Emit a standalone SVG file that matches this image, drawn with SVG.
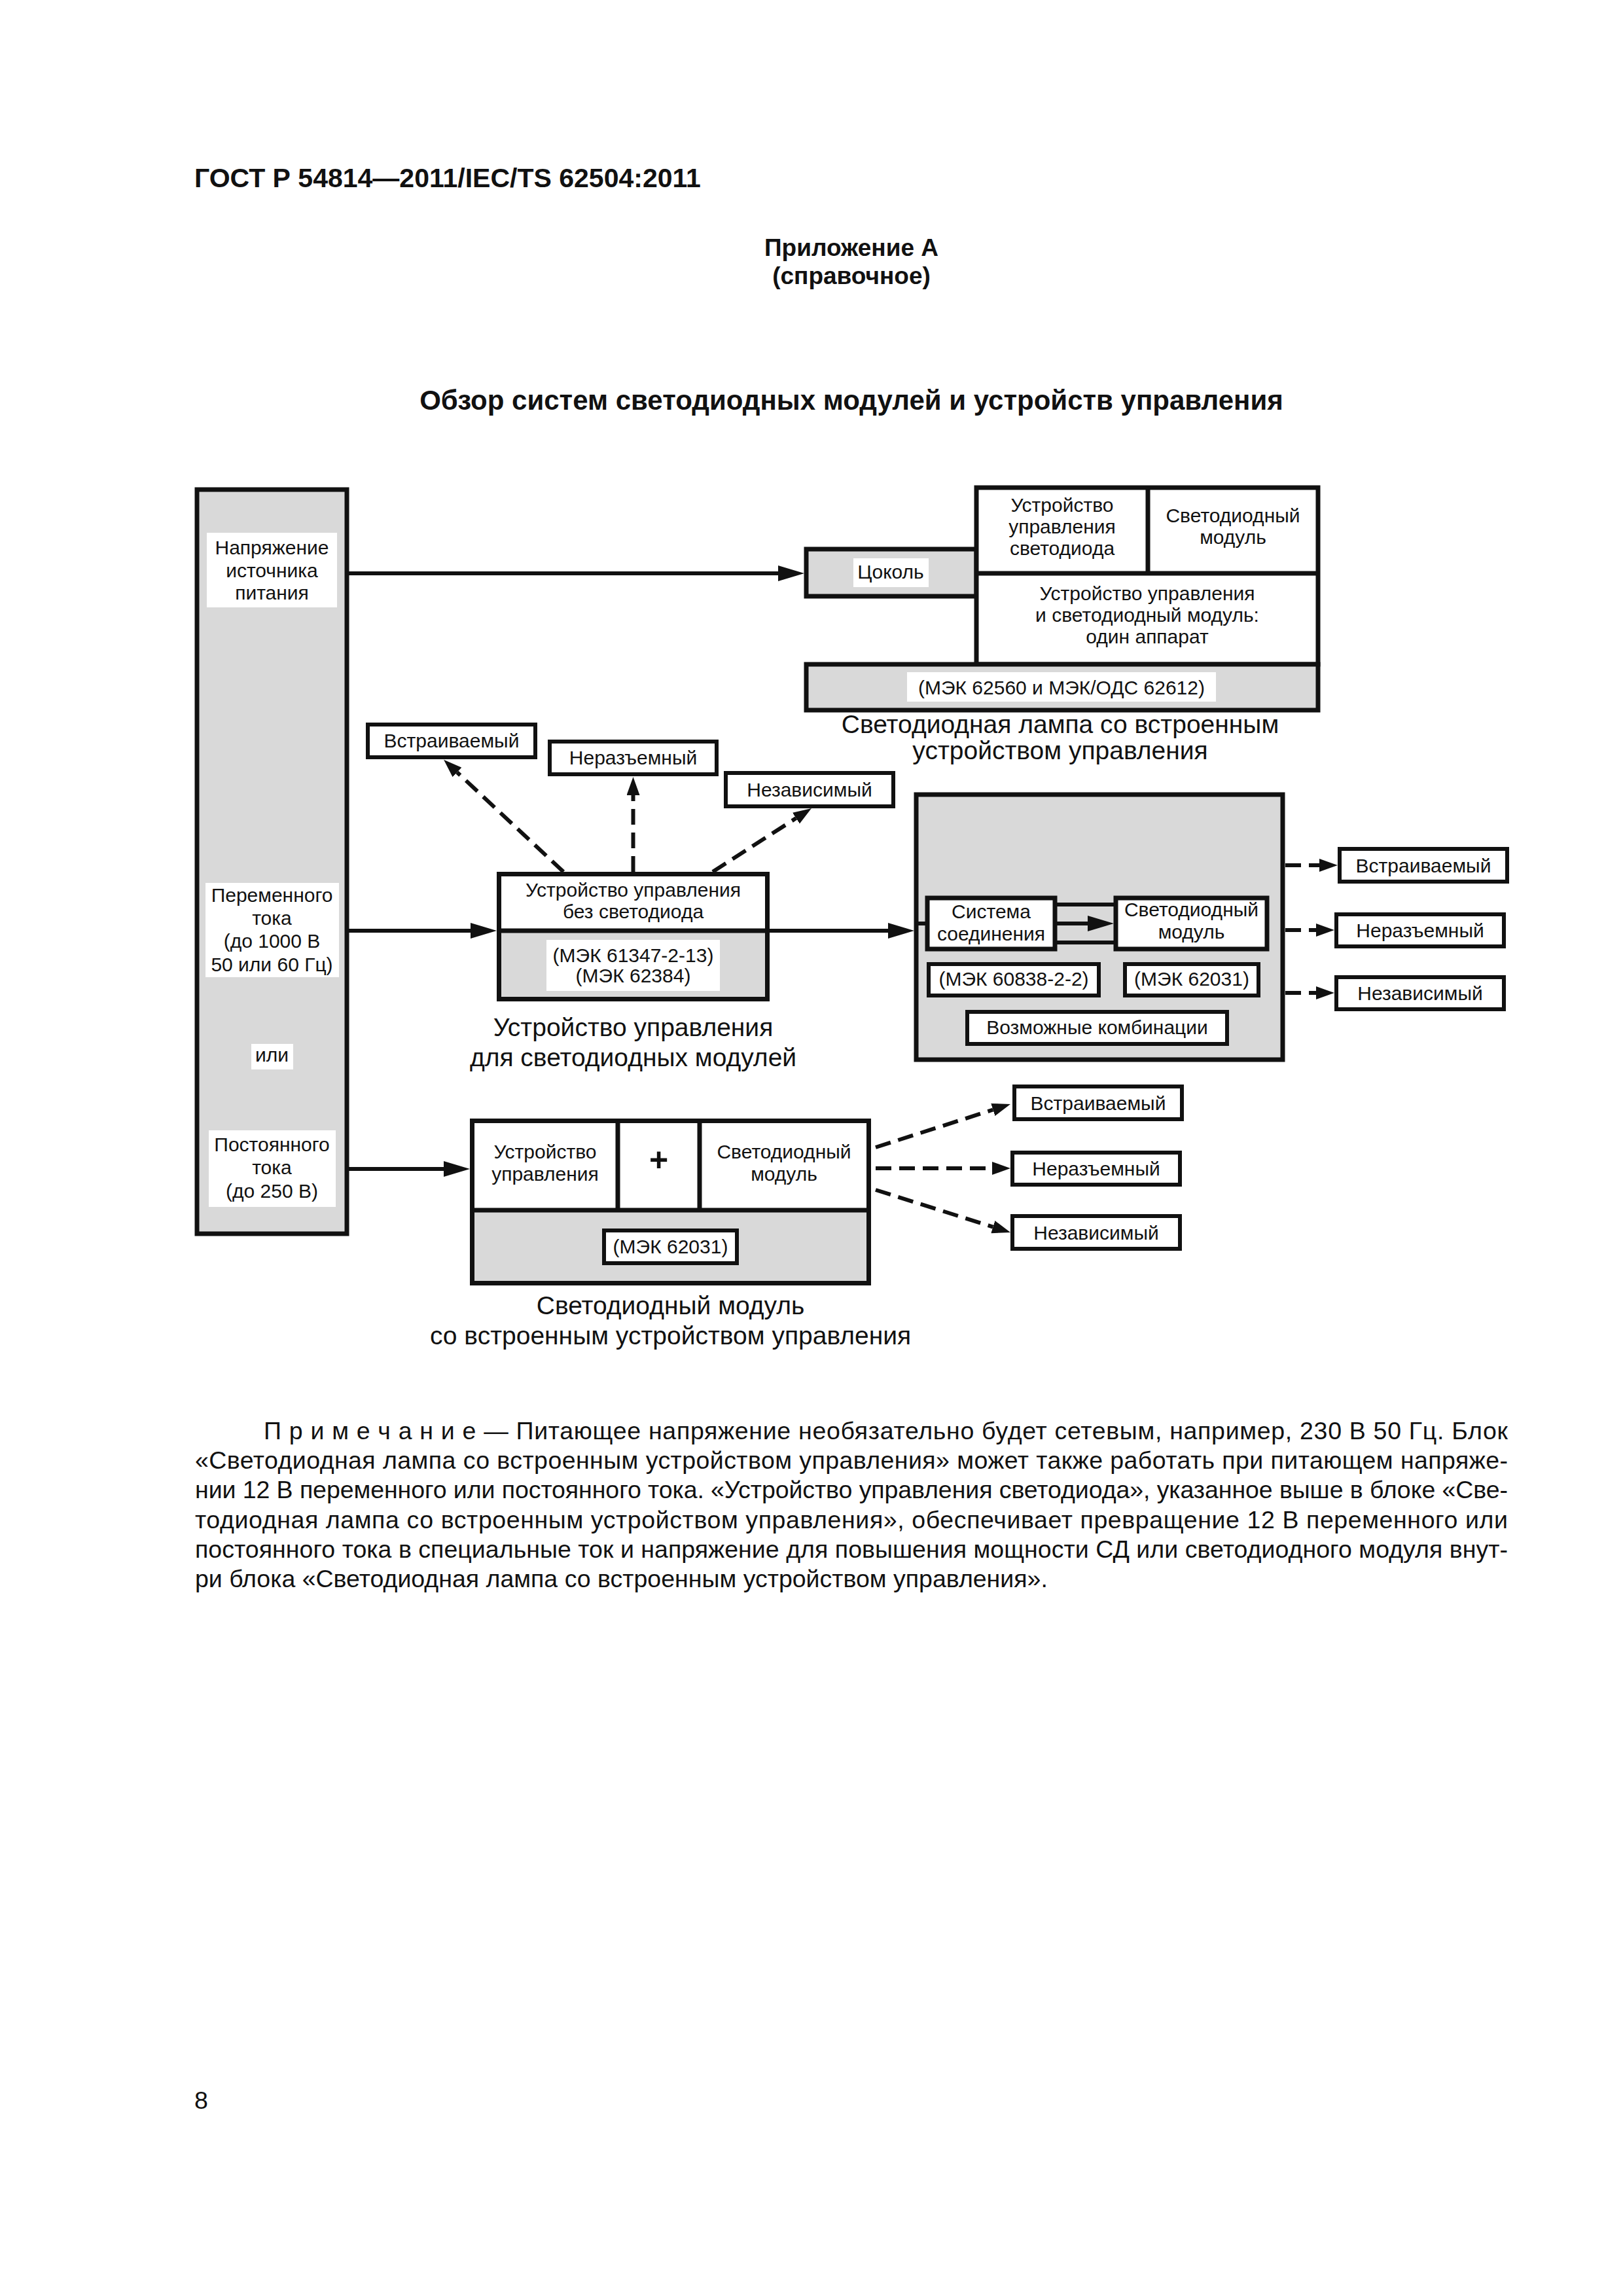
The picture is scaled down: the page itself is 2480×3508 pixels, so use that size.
<svg xmlns="http://www.w3.org/2000/svg" width="2480" height="3508" viewBox="0 0 2480 3508">
<style>
 text { font-family: "Liberation Sans", Arial, sans-serif; fill:#111; }
 .lbl { font-size:30px; text-anchor:middle; }
 .cap { font-size:39px; text-anchor:middle; }
 .note { font-size:37.5px; }
 .hdr { font-weight:bold; }
 .box { fill:#fff; stroke:#111; stroke-width:7; }
 .gbox { fill:#d9d9d9; stroke:#111; stroke-width:7; }
 .sbox { fill:#fff; stroke:#111; stroke-width:6; }
 .wl { fill:#fff; stroke:none; }
 .ln { stroke:#111; stroke-width:6; fill:none; }
 .ln7 { stroke:#111; stroke-width:7; fill:none; }
 .dash { stroke:#111; stroke-width:6; fill:none; stroke-dasharray:24 12; }
</style>
<defs>
 <marker id="ah" markerUnits="userSpaceOnUse" markerWidth="40" markerHeight="24" refX="0" refY="12" orient="auto" viewBox="0 0 40 24"><path d="M0,0 L40,12 L0,24 z" fill="#111"/></marker>
 <marker id="ahs" markerUnits="userSpaceOnUse" markerWidth="28" markerHeight="20" refX="0" refY="10" orient="auto" viewBox="0 0 28 20"><path d="M0,0 L28,10 L0,20 z" fill="#111"/></marker>
</defs>
<rect x="0" y="0" width="2480" height="3508" fill="#fff"/>

<g id="page-header">
 <text class="hdr" x="297" y="286" font-size="41">ГОСТ Р 54814—2011/IEC/TS 62504:2011</text>
 <text class="hdr" x="1301" y="391" font-size="37" text-anchor="middle">Приложение А</text>
 <text class="hdr" x="1301" y="434" font-size="37" text-anchor="middle">(справочное)</text>
 <text class="hdr" x="1301" y="626" font-size="42" text-anchor="middle">Обзор систем светодиодных модулей и устройств управления</text>
</g>

<g id="connectors">
 <line class="ln" x1="530" y1="876" x2="1189" y2="876" marker-end="url(#ah)"/>
 <line class="ln" x1="530" y1="1422" x2="719" y2="1422" marker-end="url(#ah)"/>
 <line class="ln" x1="1172" y1="1422" x2="1357" y2="1422" marker-end="url(#ah)"/>
 <line class="ln" x1="530" y1="1786" x2="678" y2="1786" marker-end="url(#ah)"/>
 <line class="dash" x1="861" y1="1332" x2="698.5" y2="1180" marker-end="url(#ahs)"/>
 <line class="dash" x1="967.5" y1="1332" x2="967.5" y2="1215" marker-end="url(#ahs)"/>
 <line class="dash" x1="1089" y1="1332" x2="1216.4" y2="1250.1" marker-end="url(#ahs)"/>
 <line class="dash" x1="1964" y1="1322" x2="2016" y2="1322" marker-end="url(#ahs)"/>
 <line class="dash" x1="1964" y1="1421" x2="2011" y2="1421" marker-end="url(#ahs)"/>
 <line class="dash" x1="1964" y1="1517" x2="2011" y2="1517" marker-end="url(#ahs)"/>
 <line class="dash" x1="1338" y1="1753" x2="1517.3" y2="1695.5" marker-end="url(#ahs)"/>
 <line class="dash" x1="1338" y1="1785" x2="1516" y2="1785" marker-end="url(#ahs)"/>
 <line class="dash" x1="1338" y1="1818" x2="1517.3" y2="1874.6" marker-end="url(#ahs)"/>
</g>

<g id="power-source">
 <rect class="gbox" x="301" y="748" width="229" height="1137"/>
 <rect class="wl" x="316" y="814" width="199" height="114"/>
 <text class="lbl" x="415.5" y="847">Напряжение</text>
 <text class="lbl" x="415.5" y="882">источника</text>
 <text class="lbl" x="415.5" y="916">питания</text>
 <rect class="wl" x="314" y="1349" width="204" height="144"/>
 <text class="lbl" x="415.5" y="1378">Переменного</text>
 <text class="lbl" x="415.5" y="1413">тока</text>
 <text class="lbl" x="415.5" y="1448">(до 1000 В</text>
 <text class="lbl" x="415.5" y="1484">50 или 60 Гц)</text>
 <rect class="wl" x="384" y="1595" width="64" height="39"/>
 <text class="lbl" x="415.5" y="1622">или</text>
 <rect class="wl" x="319" y="1727" width="194" height="117"/>
 <text class="lbl" x="415.5" y="1759">Постоянного</text>
 <text class="lbl" x="415.5" y="1794">тока</text>
 <text class="lbl" x="415.5" y="1830">(до 250 В)</text>
</g>

<g id="led-lamp">
 <rect class="gbox" x="1232" y="839" width="260" height="72"/>
 <rect class="wl" x="1304" y="853" width="115" height="44"/>
 <text class="lbl" x="1361" y="884">Цоколь</text>
 <rect class="box" x="1492" y="745" width="522" height="270"/>
 <line class="ln7" x1="1492" y1="876" x2="2014" y2="876"/>
 <line class="ln7" x1="1754" y1="745" x2="1754" y2="876"/>
 <text class="lbl" x="1623" y="782">Устройство</text>
 <text class="lbl" x="1623" y="815">управления</text>
 <text class="lbl" x="1623" y="848">светодиода</text>
 <text class="lbl" x="1884" y="798">Светодиодный</text>
 <text class="lbl" x="1884" y="831">модуль</text>
 <text class="lbl" x="1753" y="917">Устройство управления</text>
 <text class="lbl" x="1753" y="950">и светодиодный модуль:</text>
 <text class="lbl" x="1753" y="983">один аппарат</text>
 <rect class="gbox" x="1232" y="1015" width="782" height="70"/>
 <rect class="wl" x="1386" y="1027" width="472" height="45"/>
 <text class="lbl" x="1622" y="1061">(МЭК 62560 и МЭК/ОДС 62612)</text>
 <text class="cap" x="1620" y="1120">Светодиодная лампа со встроенным</text>
 <text class="cap" x="1620" y="1160">устройством управления</text>
</g>

<g id="mid-embedded">
 <rect class="sbox" x="562" y="1107" width="256" height="50"/>
 <text class="lbl" x="690" y="1142">Встраиваемый</text>
</g>
<g id="mid-integral">
 <rect class="sbox" x="840" y="1133" width="255" height="50"/>
 <text class="lbl" x="967.5" y="1168">Неразъемный</text>
</g>
<g id="mid-independent">
 <rect class="sbox" x="1109" y="1181" width="256" height="51"/>
 <text class="lbl" x="1237" y="1217">Независимый</text>
</g>

<g id="control-gear">
 <rect class="box" x="762.5" y="1335.5" width="410" height="191"/>
 <rect x="762.5" y="1422" width="410" height="104.5" fill="#d9d9d9"/>
 <rect class="ln7" x="762.5" y="1335.5" width="410" height="191"/>
 <line class="ln7" x1="762.5" y1="1422" x2="1172.5" y2="1422"/>
 <text class="lbl" x="967.5" y="1370">Устройство управления</text>
 <text class="lbl" x="967.5" y="1403">без светодиода</text>
 <rect class="wl" x="835" y="1436" width="265" height="78"/>
 <text class="lbl" x="967.5" y="1470">(МЭК 61347-2-13)</text>
 <text class="lbl" x="967.5" y="1501">(МЭК 62384)</text>
 <text class="cap" x="967.5" y="1583">Устройство управления</text>
 <text class="cap" x="967.5" y="1629">для светодиодных модулей</text>
</g>

<g id="led-module-system">
 <rect class="gbox" x="1400" y="1214" width="560" height="405"/>
 <line class="ln" x1="1400" y1="1411" x2="1417" y2="1411"/>
 <line class="ln" x1="1612" y1="1382" x2="1705" y2="1382"/>
 <line class="ln" x1="1612" y1="1440" x2="1705" y2="1440"/>
 <line class="ln" x1="1612" y1="1411" x2="1662" y2="1411" marker-end="url(#ah)"/>
 <rect class="box" x="1417" y="1372" width="195" height="78"/>
 <text class="lbl" x="1514.5" y="1403">Система</text>
 <text class="lbl" x="1514.5" y="1437">соединения</text>
 <rect class="box" x="1705" y="1372" width="231" height="78"/>
 <text class="lbl" x="1820.5" y="1400">Светодиодный</text>
 <text class="lbl" x="1820.5" y="1434">модуль</text>
 <rect class="sbox" x="1419" y="1473" width="260" height="48"/>
 <text class="lbl" x="1549" y="1506">(МЭК 60838-2-2)</text>
 <rect class="sbox" x="1719" y="1473" width="204" height="48"/>
 <text class="lbl" x="1821" y="1506">(МЭК 62031)</text>
 <rect class="sbox" x="1478" y="1546" width="397" height="49"/>
 <text class="lbl" x="1676.5" y="1580">Возможные комбинации</text>
</g>

<g id="right-embedded">
 <rect class="sbox" x="2047" y="1297" width="256" height="50"/>
 <text class="lbl" x="2175" y="1333">Встраиваемый</text>
</g>
<g id="right-integral">
 <rect class="sbox" x="2042" y="1397" width="256" height="49"/>
 <text class="lbl" x="2170" y="1432">Неразъемный</text>
</g>
<g id="right-independent">
 <rect class="sbox" x="2042" y="1493" width="256" height="49"/>
 <text class="lbl" x="2170" y="1528">Независимый</text>
</g>

<g id="led-module-integral">
 <rect class="box" x="721.5" y="1712.5" width="606" height="248"/>
 <rect x="721.5" y="1849" width="606" height="111.5" fill="#d9d9d9"/>
 <rect class="ln7" x="721.5" y="1712.5" width="606" height="248"/>
 <line class="ln7" x1="721.5" y1="1849" x2="1327.5" y2="1849"/>
 <line class="ln7" x1="944" y1="1712.5" x2="944" y2="1849"/>
 <line class="ln7" x1="1069" y1="1712.5" x2="1069" y2="1849"/>
 <text class="lbl" x="833" y="1770">Устройство</text>
 <text class="lbl" x="833" y="1804">управления</text>
 <text x="1006.5" y="1789" font-size="50" font-weight="bold" text-anchor="middle">+</text>
 <text class="lbl" x="1198" y="1770">Светодиодный</text>
 <text class="lbl" x="1198" y="1804">модуль</text>
 <rect class="sbox" x="923" y="1880" width="203" height="50"/>
 <text class="lbl" x="1024.5" y="1915">(МЭК 62031)</text>
 <text class="cap" x="1024.5" y="2008">Светодиодный модуль</text>
 <text class="cap" x="1024.5" y="2054">со встроенным устройством управления</text>
</g>

<g id="bottom-embedded">
 <rect class="sbox" x="1550" y="1660" width="256" height="50"/>
 <text class="lbl" x="1678" y="1696">Встраиваемый</text>
</g>
<g id="bottom-integral">
 <rect class="sbox" x="1547" y="1761" width="256" height="49"/>
 <text class="lbl" x="1675" y="1796">Неразъемный</text>
</g>
<g id="bottom-independent">
 <rect class="sbox" x="1547" y="1858" width="256" height="50"/>
 <text class="lbl" x="1675" y="1894">Независимый</text>
</g>

<g id="note">
 <text class="note" x="403" y="2199" textLength="1901" lengthAdjust="spacing">П р и м е ч а н и е — Питающее напряжение необязательно будет сетевым, например, 230 В 50 Гц. Блок</text>
 <text class="note" x="298" y="2244" textLength="2006" lengthAdjust="spacing">«Светодиодная лампа со встроенным устройством управления» может также работать при питающем напряже-</text>
 <text class="note" x="298" y="2289" textLength="2006" lengthAdjust="spacing">нии 12 В переменного или постоянного тока. «Устройство управления светодиода», указанное выше в блоке «Све-</text>
 <text class="note" x="298" y="2335" textLength="2006" lengthAdjust="spacing">тодиодная лампа со встроенным устройством управления», обеспечивает превращение 12 В переменного или</text>
 <text class="note" x="298" y="2380" textLength="2006" lengthAdjust="spacing">постоянного тока в специальные ток и напряжение для повышения мощности СД или светодиодного модуля внут-</text>
 <text class="note" x="298" y="2425">ри блока «Светодиодная лампа со встроенным устройством управления».</text>
</g>

<g id="page-number">
 <text x="297" y="3222" font-size="37.5">8</text>
</g>
</svg>
